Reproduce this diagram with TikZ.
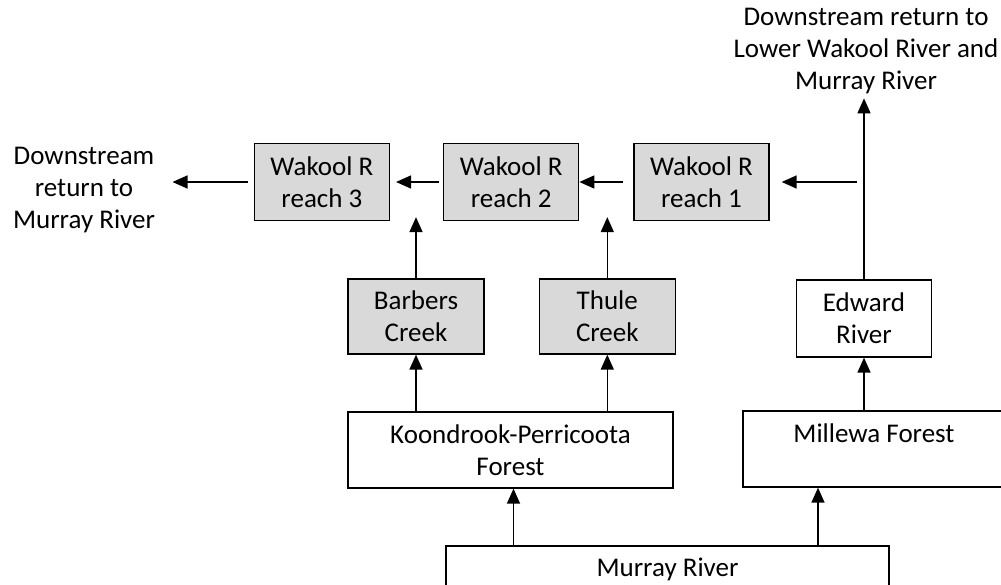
\documentclass[tikz,border=0pt]{standalone}
\usepackage{fontspec}
\setmainfont{Carlito}
\usetikzlibrary{positioning, arrows.meta}

\begin{document}
\begin{tikzpicture}[
    x=1pt, y=-1pt,
    every node/.style={font=\fontsize{27}{32}\selectfont, align=center},
    reach/.style={rectangle, draw=black, fill=black!15, line width=1.3pt, minimum width=135pt, minimum height=77pt, inner sep=0pt},
    creek/.style={reach, minimum width=136pt, minimum height=75pt},
    plain/.style={rectangle, draw=black, fill=white, line width=1.3pt, inner sep=0pt},
    flow/.style={-{Triangle[width=13pt, length=15pt]}, line width=1.5pt}
]
\useasboundingbox (0,0) rectangle (1001,585);

% Wakool reaches
\node[reach] (reach1) at (701.5,182) {Wakool R\\reach 1};
\node[reach, left=54pt of reach1] (reach2) {Wakool R\\reach 2};
\node[reach, left=53pt of reach2] (reach3) {Wakool R\\reach 3};

% Creeks and rivers
\node[creek] (barbers) at (416,316.5) {Barbers\\Creek};
\node[creek, right=54pt of barbers] (thule) {Thule\\Creek};
\node[plain, minimum width=135pt, minimum height=77pt] (edward) at (864,318.5) {Edward\\River};

% Forests
\node[plain, minimum width=325pt, minimum height=76pt] (kpforest) at (510.5,450) {Koondrook-Perricoota\\Forest};
\node[plain, minimum width=262pt, minimum height=76pt] (millewa) at (874,449) {Millewa Forest\\\mbox{}};
\node[plain, minimum width=443pt, minimum height=46pt] (murray) at (667.5,569) {Murray River};

% Downstream returns
\node (retleft) at (84,190) {Downstream\\return to\\Murray River};
\node (rettop) at (866,51) {Downstream return to\\Lower Wakool River and\\Murray River};
\coordinate[right=87pt of reach1] (reachin);

% Arrows
\draw[flow] ([xshift=3pt]kpforest.south |- murray.north) -- ([xshift=3pt]kpforest.south);
\draw[flow] ([xshift=-56pt]millewa.south |- murray.north) -- ([xshift=-56pt]millewa.south);
\draw[flow] (kpforest.north -| barbers.south) -- (barbers.south);
\draw[flow] (kpforest.north -| thule.south) -- (thule.south);
\draw[flow] (millewa.north -| edward.south) -- (edward.south);
\draw[flow, shorten >=1pt] (edward.north) -- (edward.north |- rettop.south);
\draw[flow] (barbers.north) -- ([yshift=4pt]barbers.north |- reach3.south);
\draw[flow] (thule.north) -- ([yshift=4pt]thule.north |- reach2.south);
\draw[flow, shorten >=12pt] (reachin) -- (reach1.east);
\draw[flow, shorten <=10pt] (reach1.west) -- (reach2.east);
\draw[flow, shorten <=4pt, shorten >=6pt] (reach2.west) -- (reach3.east);
\draw[flow, shorten <=6pt, shorten >=14pt] (reach3.west) -- (reach3.west -| retleft.east);

\end{tikzpicture}
\end{document}
